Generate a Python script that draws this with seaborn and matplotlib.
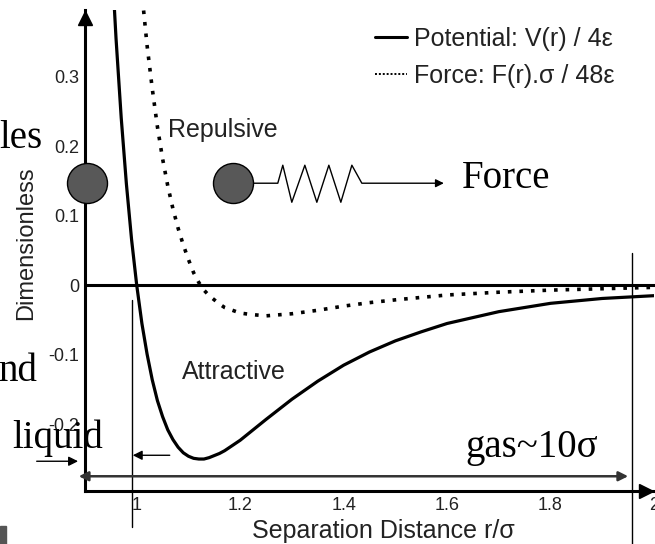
import matplotlib
matplotlib.use("Agg")
import matplotlib.pyplot as plt
from matplotlib.lines import Line2D
from matplotlib.patches import Rectangle
import pandas as pd
import seaborn as sns

# Lennard-Jones curves (reduced units)
r_potential = [0.95, 0.96, 0.97, 0.98, 0.99, 1.00, 1.01, 1.02, 1.03, 1.04, 1.05,
               1.06, 1.07, 1.08, 1.09, 1.10, 1.11, 1.12, 1.13, 1.14, 1.16, 1.17,
               1.20, 1.22, 1.25, 1.30, 1.35, 1.40, 1.45, 1.50, 1.55, 1.60, 1.70,
               1.80, 1.90, 2.00]
potential = [0.490, 0.355, 0.241, 0.146, 0.066, 0.000, -0.055, -0.099, -0.136,
             -0.166, -0.189, -0.208, -0.222, -0.233, -0.241, -0.246, -0.249,
             -0.250, -0.250, -0.248, -0.242, -0.238, -0.223, -0.211, -0.193,
             -0.164, -0.138, -0.115, -0.096, -0.080, -0.067, -0.055, -0.038,
             -0.026, -0.019, -0.015]

r_force = [1.00, 1.01, 1.02, 1.03, 1.04, 1.05, 1.06, 1.07, 1.08, 1.09, 1.10,
           1.11, 1.12, 1.13, 1.14, 1.16, 1.17, 1.20, 1.22, 1.25, 1.30, 1.35,
           1.40, 1.45, 1.50, 1.60, 1.70, 1.80, 1.90, 2.00]
force = [0.500, 0.420, 0.345, 0.283, 0.228, 0.182, 0.143, 0.110, 0.082, 0.058,
         0.037, 0.018, 0.004, -0.007, -0.015, -0.027, -0.032, -0.040, -0.042,
         -0.044, -0.041, -0.036, -0.030, -0.025, -0.021, -0.014, -0.010,
         -0.007, -0.005, -0.003]

x_ticks = [1.0, 1.2, 1.4, 1.6, 1.8, 2.0]
x_tick_labels = ["1", "1.2", "1.4", "1.6", "1.8", "2"]
y_ticks = [-0.2, -0.1, 0.0, 0.1, 0.2, 0.3]
y_tick_labels = ["-0.2", "-0.1", "0", "0.1", "0.2", "0.3"]

legend_labels = ["Potential: V(r) / 4\u03b5", "Force: F(r).\u03c3 / 48\u03b5"]

sns.set_theme(style="white")
plt.rcParams["font.family"] = ["Liberation Sans", "DejaVu Sans"]
SERIF = ["Liberation Serif", "DejaVu Serif"]

fig = plt.figure(figsize=(6.55, 5.44), dpi=100)
ax = fig.add_axes([85 / 655, 53 / 544, 569 / 655, 481 / 544])

df_pot = pd.DataFrame({"r": r_potential, "v": potential})
df_force = pd.DataFrame({"r": r_force, "f": force})

sns.lineplot(data=df_pot, x="r", y="v", ax=ax, color="black", lw=2.3,
             sort=False)
sns.lineplot(data=df_force, x="r", y="f", ax=ax, color="black", lw=2.6,
             linestyle=(0, (1.0, 2.2)), sort=False)

ax.set_xlim(0.9, 2.0)
ax.set_ylim(-0.296, 0.396)

# axes frame: left and bottom with arrow heads, zero line across
for side in ["top", "right"]:
    ax.spines[side].set_visible(False)
for side in ["left", "bottom"]:
    ax.spines[side].set_linewidth(2.2)
    ax.spines[side].set_color("black")
ax.axhline(0, color="black", lw=2.2, clip_on=False, xmax=1.01)
ax.plot(0, 0.384, marker="^", color="black", markersize=10,
        transform=ax.get_yaxis_transform(), clip_on=False)
ax.plot(1.985, 0, marker=">", color="black", markersize=10,
        transform=ax.get_xaxis_transform(), clip_on=False)

ax.set_xticks(x_ticks)
ax.set_xticklabels(x_tick_labels)
ax.set_yticks(y_ticks)
ax.set_yticklabels(y_tick_labels)
ax.tick_params(direction="in", length=4, width=1, color="#777777",
               labelsize=13, labelcolor="#222222", pad=4)

ax.set_xlabel("Separation Distance r/\u03c3", fontsize=18, color="#222222")
ax.xaxis.set_label_coords(0.524, -0.058)
ax.set_ylabel("Dimensionless", fontsize=17, color="#222222")
ax.yaxis.set_label_coords(-0.084, 0.515)

# region labels
ax.text(1.060, 0.223, "Repulsive", fontsize=18, color="#222222",
        ha="left", va="center")
ax.text(1.087, -0.125, "Attractive", fontsize=18, color="#222222",
        ha="left", va="center")

# two particles joined by a spring, pulled by a force
ax.scatter([0.9033, 1.1857], [0.1468, 0.1468], s=830, color="#585858",
           edgecolor="black", linewidth=1.0, zorder=5, clip_on=False)
spring_x = [1.2244, 1.2727, 1.2824, 1.2998, 1.3250, 1.3482, 1.3714, 1.3946,
            1.4159, 1.4352, 1.5900]
spring_y = [0.1468, 0.1468, 0.1727, 0.1194, 0.1727, 0.1194, 0.1727, 0.1194,
            0.1727, 0.1468, 0.1468]
ax.plot(spring_x, spring_y, color="black", lw=1.0, zorder=4)
ax.annotate("", xy=(1.5990, 0.1468), xytext=(1.5800, 0.1468),
            arrowprops=dict(arrowstyle="-|>", color="black", lw=1.0,
                            mutation_scale=12))
ax.text(1.6286, 0.1396, "Force", fontsize=28, family=SERIF,
        ha="left", va="baseline", color="black")

# phase distance markers
ax.plot([0.9903, 0.9903], [-0.0216, -0.348], color="black", lw=1.0,
        clip_on=False)
ax.plot([1.9574, 1.9574], [0.046, -0.375], color="black", lw=1.0,
        clip_on=False)
ax.annotate("", xy=(0.8880, -0.2748), xytext=(1.9500, -0.2748),
            arrowprops=dict(arrowstyle="<|-|>", color="#333333", lw=1.8,
                            mutation_scale=14, shrinkA=0, shrinkB=0),
            annotation_clip=False)
ax.annotate("", xy=(0.8866, -0.2532), xytext=(0.8066, -0.2532),
            arrowprops=dict(arrowstyle="-|>", color="black", lw=1.0,
                            mutation_scale=14, shrinkA=0, shrinkB=0),
            annotation_clip=False)
ax.annotate("", xy=(0.9923, -0.2446), xytext=(1.0638, -0.2446),
            arrowprops=dict(arrowstyle="-|>", color="black", lw=1.0,
                            mutation_scale=14, shrinkA=0, shrinkB=0),
            annotation_clip=False)

ax.text(1.6344, -0.2475, "gas~10\u03c3", fontsize=28, family=SERIF,
        ha="left", va="baseline", color="black")
ax.text(0.760, -0.2345, "liquid", fontsize=28, family=SERIF,
        ha="left", va="baseline", color="black", zorder=1)
ax.text(0.8180, 0.197, "les", fontsize=28, family=SERIF,
        ha="right", va="baseline", color="black")
ax.text(0.8066, -0.138, "nd", fontsize=28, family=SERIF,
        ha="right", va="baseline", color="black")

# legend
handles = [Line2D([], [], color="black", lw=2.2),
           Line2D([], [], color="black", lw=1.4, linestyle=(0, (1, 1)))]
fig.legend(handles, legend_labels, loc="upper right",
           bbox_to_anchor=(614 / 655, 1 - 27 / 544), frameon=False,
           fontsize=18, handlelength=1.3, handletextpad=0.25,
           labelspacing=0.5, borderpad=0, borderaxespad=0,
           labelcolor="#222222")

# small dark tab at the lower-left corner
fig.patches.append(Rectangle((0, 0), 6 / 655, 18 / 544, transform=fig.transFigure,
                             color="#555555", zorder=10))

fig.savefig("out.png", dpi=100)
